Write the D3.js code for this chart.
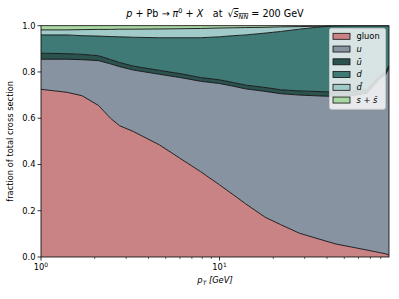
<!DOCTYPE html>
<html>
<head>
<meta charset="utf-8">
<script src="https://cdn.jsdelivr.net/npm/d3@7"></script>
<style>
  body { margin: 0; background: #fff; }
  svg { font-family: "DejaVu Sans", sans-serif; }
</style>
</head>
<body>
<svg id="chart" width="399" height="299"></svg>
<script>
// p_T grid (GeV) and fraction of total cross section per channel
const pT    = [1, 1.4, 1.7, 2.1, 2.45, 2.75, 3.3, 4.6, 6, 7.8, 10, 12, 14, 18, 22, 28, 37, 45, 55, 67, 80, 85, 89];
const gluon = [0.725, 0.712, 0.697, 0.655, 0.600, 0.568, 0.542, 0.485, 0.427, 0.370, 0.312, 0.268, 0.230, 0.172, 0.140, 0.103, 0.075, 0.056, 0.043, 0.030, 0.018, 0.014, 0.009];
const uq    = [0.130, 0.143, 0.156, 0.194, 0.235, 0.255, 0.266, 0.305, 0.349, 0.390, 0.438, 0.470, 0.497, 0.544, 0.566, 0.597, 0.621, 0.638, 0.655, 0.678, 0.757, 0.773, 0.808];
const ubar  = [0.026, 0.024, 0.023, 0.021, 0.019, 0.018, 0.017, 0.017, 0.017, 0.016, 0.016, 0.016, 0.016, 0.017, 0.017, 0.018, 0.019, 0.019, 0.018, 0.016, 0.013, 0.012, 0.011];
const dq    = [0.079, 0.081, 0.081, 0.085, 0.099, 0.111, 0.125, 0.141, 0.155, 0.172, 0.186, 0.203, 0.217, 0.235, 0.252, 0.267, 0.280, 0.286, 0.284, 0.276, 0.212, 0.201, 0.172];
const dbar  = [0.022, 0.022, 0.026, 0.029, 0.031, 0.033, 0.035, 0.038, 0.039, 0.040, 0.038, 0.034, 0.032, 0.025, 0.020, 0.011, 0.003, 0.001, 0, 0, 0, 0, 0];
const ssbar = [0.018, 0.018, 0.017, 0.016, 0.016, 0.015, 0.015, 0.014, 0.013, 0.012, 0.010, 0.009, 0.008, 0.007, 0.005, 0.004, 0.002, 0, 0, 0, 0, 0, 0];

const keys = ["gluon", "u", "ubar", "d", "dbar", "ss"];
const labels = {
  gluon: [["gluon", "normal"]],
  u: [["u", "italic"]],
  ubar: [["\u016B", "italic"]],
  d: [["d", "italic"]],
  dbar: [["d\u0304", "italic"]],
  ss: [["s", "italic"], [" + ", "normal"], ["s\u0304", "italic"]]
};
const colors = ["#c98384", "#8893a2", "#2b524e", "#3f7a76", "#a1cbc8", "#a9d8a3"];
const yTicks = [0, 0.2, 0.4, 0.6, 0.8, 1.0];

const table = pT.map((p, i) => ({
  pT: p, gluon: gluon[i], u: uq[i], ubar: ubar[i], d: dq[i], dbar: dbar[i], ss: ssbar[i]
}));

const svg = d3.select("#chart");
const margin = { top: 25.7, right: 10, bottom: 42, left: 41 };
const width = 399, height = 299;
const x0 = margin.left, x1 = width - margin.right;
const y0 = height - margin.bottom, y1 = margin.top;

const x = d3.scaleLog().domain([1, 89]).range([x0, x1]);
const y = d3.scaleLinear().domain([0, 1]).range([y0, y1]);
const z = d3.scaleOrdinal().domain(keys).range(colors);

const series = d3.stack().keys(keys)(table);

svg.append("clipPath").attr("id", "clip")
  .append("rect").attr("x", x0).attr("y", y1).attr("width", x1 - x0).attr("height", y0 - y1);

const plot = svg.append("g").attr("clip-path", "url(#clip)");

const area = d3.area()
  .x(d => x(d.data.pT))
  .y0(d => y(d[0]))
  .y1(d => y(d[1]));

plot.selectAll("path.layer")
  .data(series)
  .enter()
  .append("path")
  .attr("class", "layer")
  .attr("fill", d => z(d.key))
  .attr("d", area);

const edge = d3.line()
  .x(d => x(d.data.pT))
  .y(d => y(d[1]));

plot.selectAll("path.edge")
  .data(series.slice(0, -1))
  .enter()
  .append("path")
  .attr("class", "edge")
  .attr("fill", "none")
  .attr("stroke", "#111")
  .attr("stroke-width", 0.9)
  .attr("d", edge);

// axes
const xAxis = svg.append("g").attr("transform", `translate(0,${y0})`);
const majors = [1, 10];
const minors = d3.range(2, 10).concat(d3.range(20, 100, 10)).filter(v => v <= 89);
xAxis.selectAll("line.minor").data(minors).enter().append("line")
  .attr("x1", d => x(d)).attr("x2", d => x(d)).attr("y1", 0).attr("y2", 2)
  .attr("stroke", "#000").attr("stroke-width", 0.6);
xAxis.selectAll("line.major").data(majors).enter().append("line")
  .attr("x1", d => x(d)).attr("x2", d => x(d)).attr("y1", 0).attr("y2", 3.5)
  .attr("stroke", "#000").attr("stroke-width", 0.8);
const xl = xAxis.selectAll("text").data(majors).enter().append("text")
  .attr("x", d => x(d)).attr("y", 13).attr("text-anchor", "middle")
  .attr("font-size", 8.3).attr("fill", "#000");
xl.append("tspan").text("10");
xl.append("tspan").attr("dy", -3.5).attr("font-size", 6).text((d, i) => i);

const yAxis = svg.append("g").attr("transform", `translate(${x0},0)`);
yAxis.selectAll("line").data(yTicks).enter().append("line")
  .attr("x1", -3.5).attr("x2", 0).attr("y1", d => y(d)).attr("y2", d => y(d))
  .attr("stroke", "#000").attr("stroke-width", 0.8);
yAxis.selectAll("text").data(yTicks).enter().append("text")
  .attr("x", -5.5).attr("y", d => y(d)).attr("dy", "0.35em")
  .attr("text-anchor", "end").attr("font-size", 8.3).attr("fill", "#000")
  .text(d => d.toFixed(1));

svg.append("rect")
  .attr("x", x0).attr("y", y1).attr("width", x1 - x0).attr("height", y0 - y1)
  .attr("fill", "none").attr("stroke", "#000").attr("stroke-width", 0.8);

// axis labels
const xlab = svg.append("text")
  .attr("x", (x0 + x1) / 2).attr("y", 283).attr("text-anchor", "middle")
  .attr("font-size", 8.3);
xlab.append("tspan").attr("font-style", "italic").text("p");
xlab.append("tspan").attr("font-style", "italic").attr("font-size", 6).attr("dy", 2).text("T");
xlab.append("tspan").attr("dy", -2).attr("font-style", "italic").text(" [GeV]");

svg.append("text")
  .attr("transform", `translate(13,${(y0 + y1) / 2}) rotate(-90)`)
  .attr("text-anchor", "middle").attr("font-size", 8.3)
  .text("fraction of total cross section");

// title
const title = svg.append("text")
  .attr("x", (x0 + x1) / 2).attr("y", 17).attr("text-anchor", "middle")
  .attr("font-size", 9.6);
title.append("tspan").attr("font-style", "italic").text("p");
title.append("tspan").text(" + Pb \u2192 ");
title.append("tspan").attr("font-style", "italic").text("\u03C0");
title.append("tspan").attr("font-size", 6.5).attr("dy", -4).text("0");
title.append("tspan").attr("dy", 4).text(" + ");
title.append("tspan").attr("font-style", "italic").text("X");
title.append("tspan").text("\u2003at \u2009\u221A");
title.append("tspan").attr("font-style", "italic").style("text-decoration", "overline").text("s");
title.append("tspan").attr("font-style", "italic").attr("font-size", 6.5).attr("dy", 2)
  .style("text-decoration", "overline").text("NN");
title.append("tspan").attr("dy", -2).text(" = 200 GeV");

// legend
const lg = svg.append("g").attr("transform", "translate(329.5,28.3)");
lg.append("rect")
  .attr("width", 56).attr("height", 81).attr("rx", 2)
  .attr("fill", "#fff").attr("fill-opacity", 0.8)
  .attr("stroke", "#cccccc").attr("stroke-width", 0.8);
const row = lg.selectAll("g.row").data(keys).enter().append("g")
  .attr("class", "row")
  .attr("transform", (d, i) => `translate(0,${8 + i * 12.75})`);
row.append("rect")
  .attr("x", 3.5).attr("y", -3).attr("width", 17).attr("height", 6)
  .attr("fill", d => z(d)).attr("stroke", "#111").attr("stroke-width", 0.8);
const lt = row.append("text").attr("x", 27).attr("dy", "0.35em").attr("font-size", 8.3);
lt.each(function (d) {
  const t = d3.select(this);
  labels[d].forEach(([s, st]) => t.append("tspan").attr("font-style", st).text(s));
});
</script>
</body>
</html>
